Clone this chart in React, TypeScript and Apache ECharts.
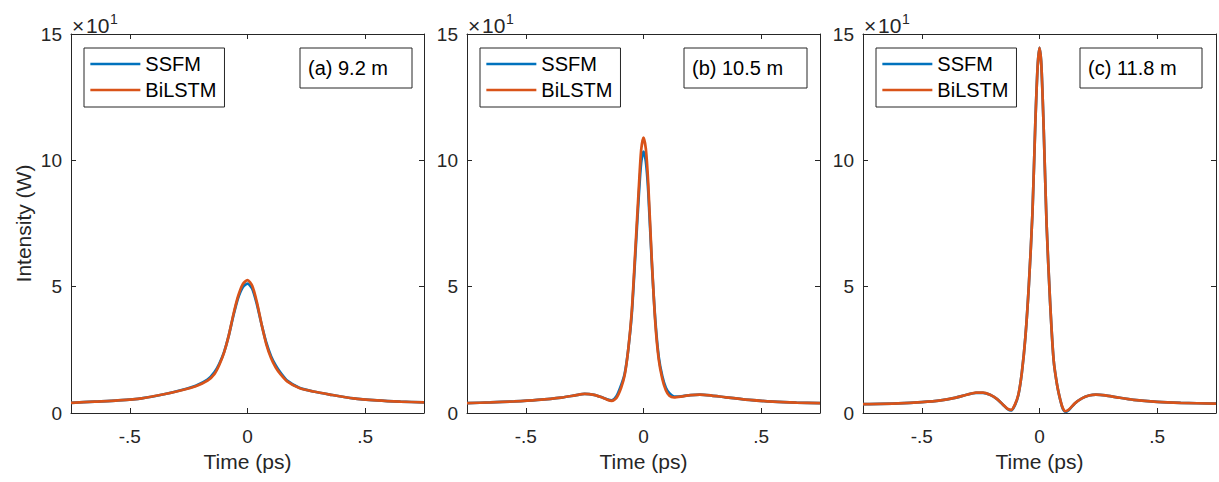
import React, { useEffect, useRef } from "react";
import * as echarts from "echarts";

// ---------- data ----------
const seriesNames = ["SSFM", "BiLSTM"];
const panelLabels = ["(a) 9.2 m", "(b) 10.5 m", "(c) 11.8 m"];
const xTickValues = [-0.5, 0, 0.5];
const xTickLabels = ["-.5", "0", ".5"];
const yTickValues = [0, 5, 10, 15];

const timeA = [-0.75, -0.65, -0.55, -0.45, -0.35, -0.28, -0.22, -0.17, -0.14, -0.12, -0.1, -0.08, -0.06, -0.04, -0.02, 0, 0.02, 0.04, 0.06, 0.08, 0.1, 0.12, 0.14, 0.17, 0.22, 0.28, 0.35, 0.45, 0.55, 0.65, 0.75];
const ssfmA = [0.4, 0.45, 0.5, 0.58, 0.75, 0.91, 1.08, 1.32, 1.62, 1.95, 2.4, 3.05, 3.85, 4.55, 4.98, 5.12, 4.92, 4.3, 3.5, 2.78, 2.25, 1.88, 1.6, 1.27, 1.0, 0.85, 0.73, 0.58, 0.5, 0.45, 0.42];
const bilstmA = [0.4, 0.45, 0.5, 0.58, 0.75, 0.9, 1.06, 1.28, 1.55, 1.9, 2.38, 3.05, 3.9, 4.62, 5.1, 5.26, 5.04, 4.38, 3.5, 2.72, 2.18, 1.8, 1.54, 1.24, 0.99, 0.85, 0.73, 0.58, 0.5, 0.45, 0.42];

const timeB = [-0.75, -0.65, -0.55, -0.45, -0.35, -0.29, -0.25, -0.21, -0.18, -0.155, -0.135, -0.115, -0.095, -0.08, -0.065, -0.05, -0.035, -0.02, -0.01, 0, 0.01, 0.02, 0.035, 0.05, 0.065, 0.08, 0.095, 0.11, 0.13, 0.16, 0.2, 0.24, 0.29, 0.35, 0.45, 0.55, 0.65, 0.75];
const ssfmB = [0.39, 0.42, 0.46, 0.52, 0.61, 0.7, 0.76, 0.72, 0.63, 0.54, 0.5, 0.66, 1.1, 1.55, 2.5, 3.9, 6.2, 8.6, 9.9, 10.35, 9.95, 8.8, 6.0, 3.7, 2.2, 1.45, 1.0, 0.78, 0.65, 0.66, 0.71, 0.73, 0.69, 0.62, 0.52, 0.45, 0.41, 0.39];
const bilstmB = [0.39, 0.42, 0.46, 0.52, 0.61, 0.7, 0.76, 0.72, 0.63, 0.53, 0.48, 0.6, 1.0, 1.5, 2.5, 4.0, 6.4, 8.9, 10.4, 10.9, 10.45, 9.1, 6.1, 3.6, 2.1, 1.35, 0.9, 0.68, 0.62, 0.65, 0.71, 0.73, 0.69, 0.62, 0.52, 0.45, 0.41, 0.39];

const timeC = [-0.75, -0.6, -0.5, -0.42, -0.36, -0.31, -0.27, -0.24, -0.21, -0.18, -0.155, -0.135, -0.12, -0.105, -0.09, -0.075, -0.06, -0.045, -0.03, -0.018, -0.008, 0, 0.008, 0.018, 0.03, 0.045, 0.06, 0.075, 0.09, 0.1, 0.11, 0.125, 0.15, 0.18, 0.21, 0.24, 0.28, 0.33, 0.4, 0.5, 0.6, 0.75];
const ssfmC = [0.35, 0.38, 0.43, 0.5, 0.6, 0.72, 0.8, 0.8, 0.72, 0.55, 0.33, 0.15, 0.1, 0.3, 0.7, 1.6, 3.0, 5.1, 7.9, 11.4, 13.7, 14.45, 13.75, 11.2, 7.5, 4.4, 2.1, 1.1, 0.45, 0.15, 0.04, 0.12, 0.38, 0.58, 0.69, 0.73, 0.7, 0.62, 0.52, 0.44, 0.4, 0.37];
const bilstmC = [0.35, 0.38, 0.43, 0.5, 0.6, 0.72, 0.81, 0.81, 0.72, 0.55, 0.33, 0.16, 0.12, 0.32, 0.72, 1.6, 3.0, 5.1, 7.9, 11.4, 13.7, 14.45, 13.75, 11.2, 7.5, 4.4, 2.1, 1.1, 0.46, 0.17, 0.07, 0.14, 0.38, 0.58, 0.69, 0.73, 0.7, 0.62, 0.52, 0.44, 0.4, 0.37];

const panelTimes = [timeA, timeB, timeC];
const panelSSFM = [ssfmA, ssfmB, ssfmC];
const panelBiLSTM = [bilstmA, bilstmB, bilstmC];

// ---------- style ----------
const FONT = "'Liberation Sans', Arial, Helvetica, sans-serif";
const AXIS_COLOR = "#262626";
const COLORS = ["#0072BD", "#D95319"];
const GRID_LEFTS = [71, 467, 863];
const GRID_TOP = 34;
const GRID_W = 353;
const GRID_H = 379;
const BOX_X = [300, 684, 1080];
const BOX_W = [112, 123, 122];

function zip(t: number[], v: number[]) {
  return t.map((x, i) => [x, v[i]]);
}

export default function App() {
  const ref = useRef<HTMLDivElement>(null);
  useEffect(() => {
    if (!ref.current) return;
    const chart = echarts.init(ref.current, null, { renderer: "svg" });

    const grid: any[] = [];
    const xAxis: any[] = [];
    const yAxis: any[] = [];
    const series: any[] = [];
    const legend: any[] = [];
    const graphic: any[] = [];

    GRID_LEFTS.forEach((left, i) => {
      grid.push({ left, top: GRID_TOP, width: GRID_W, height: GRID_H, show: false });
      const axisLine = { show: true, onZero: false, lineStyle: { color: AXIS_COLOR, width: 1 } };
      const tick = { show: true, inside: true, length: 5, lineStyle: { color: AXIS_COLOR, width: 1 } };
      xAxis.push({
        type: "value", gridIndex: i, position: "bottom", min: -0.75, max: 0.75,
        axisLine,
        axisTick: { ...tick, customValues: xTickValues },
        axisLabel: {
          customValues: xTickValues, margin: 14, fontSize: 19, fontFamily: FONT, color: AXIS_COLOR,
          formatter: (v: number) => xTickLabels[xTickValues.indexOf(v)] ?? "",
        },
        splitLine: { show: false },
        name: "Time (ps)", nameLocation: "middle", nameGap: 38,
        nameTextStyle: { fontSize: 21, fontFamily: FONT, color: AXIS_COLOR },
      });
      xAxis.push({
        type: "value", gridIndex: i, position: "top", min: -0.75, max: 0.75,
        axisLine,
        axisTick: { ...tick, customValues: xTickValues },
        axisLabel: { show: false },
        splitLine: { show: false },
      });
      yAxis.push({
        type: "value", gridIndex: i, position: "left", min: 0, max: 15, interval: 5,
        axisLine,
        axisTick: { ...tick },
        axisLabel: { margin: 9, fontSize: 19, fontFamily: FONT, color: AXIS_COLOR },
        splitLine: { show: false },
        ...(i === 0
          ? {
              name: "Intensity (W)", nameLocation: "middle", nameGap: 37,
              nameTextStyle: { fontSize: 21, fontFamily: FONT, color: AXIS_COLOR },
            }
          : {}),
      });
      yAxis.push({
        type: "value", gridIndex: i, position: "right", min: 0, max: 15, interval: 5,
        axisLine,
        axisTick: { ...tick },
        axisLabel: { show: false },
        splitLine: { show: false },
      });

      const vals = [panelSSFM[i], panelBiLSTM[i]];
      seriesNames.forEach((name, k) => {
        series.push({
          type: "line", name, xAxisIndex: 2 * i, yAxisIndex: 2 * i,
          data: zip(panelTimes[i], vals[k]),
          symbol: "none", smooth: 0.25,
          lineStyle: { color: COLORS[k], width: 2.7 },
          itemStyle: { color: COLORS[k] },
          z: 2 + k,
        });
      });

      legend.push({
        left: left + 13, top: 48, orient: "vertical",
        data: seriesNames,
        itemWidth: 50, itemHeight: 20, itemGap: 6,
        padding: [6, 8, 7, 5],
        borderColor: AXIS_COLOR, borderWidth: 1, backgroundColor: "#fff",
        itemStyle: { opacity: 0 },
        lineStyle: { width: 2.7 },
        textStyle: { fontSize: 20, fontFamily: FONT, color: "#000" },
        selectedMode: false,
      });

      graphic.push({
        type: "rect", z: 10,
        shape: { x: BOX_X[i], y: 48, width: BOX_W[i], height: 40 },
        style: { fill: "#fff", stroke: AXIS_COLOR, lineWidth: 1 },
      });
      graphic.push({
        type: "text", z: 11, x: BOX_X[i] + 8, y: 68,
        style: { text: panelLabels[i], fontSize: 20, fontFamily: FONT, fill: "#000", verticalAlign: "middle", align: "left" },
      });
      graphic.push({
        type: "text", z: 11, x: left + 1, y: 25,
        style: { text: "×", fontSize: 21, fontFamily: FONT, fill: AXIS_COLOR, verticalAlign: "middle", align: "left" },
      });
      graphic.push({
        type: "text", z: 11, x: left + 15, y: 25,
        style: { text: "10", fontSize: 21, fontFamily: FONT, fill: AXIS_COLOR, verticalAlign: "middle", align: "left" },
      });
      graphic.push({
        type: "text", z: 11, x: left + 39, y: 19,
        style: { text: "1", fontSize: 14, fontFamily: FONT, fill: AXIS_COLOR, verticalAlign: "middle", align: "left" },
      });
    });

    chart.setOption({
      animation: false,
      backgroundColor: "#fff",
      grid, xAxis, yAxis, series, legend, graphic,
    });
    return () => chart.dispose();
  }, []);

  return (
    <div
      ref={ref}
      style={{ position: "fixed", left: 0, top: 0, width: 1219, height: 482, background: "#fff" }}
    />
  );
}
